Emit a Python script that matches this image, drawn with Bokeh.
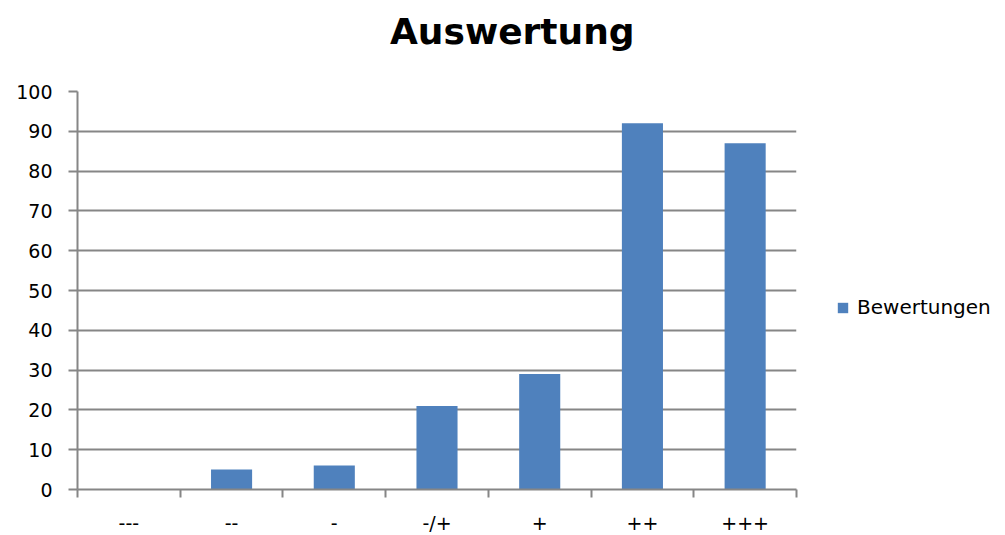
from bokeh.plotting import figure
from bokeh.models import FixedTicker, Range1d, Legend, LegendItem, Div
from bokeh.layouts import column
from bokeh.embed import file_html
from bokeh.resources import INLINE

categories = ["---", "--", "-", "-/+", "+", "++", "+++"]
values = [0, 5, 6, 21, 29, 92, 87]
series_name = "Bewertungen"
title_text = "Auswertung"
y_ticks = list(range(0, 101, 10))

xs = [i + 0.5 for i in range(len(categories))]

GRAY = "#868686"
FONT = "DejaVu Sans"

title_div = Div(
    text=('<div style="padding:14px 0 0 390px;margin:0;font-family:\'DejaVu Sans\';'
          'font-weight:bold;font-size:36px;line-height:1;color:#000000;white-space:nowrap">'
          + title_text + '</div>'),
    width=1005, height=71, margin=0)

p = figure(frame_width=719, frame_height=398, output_backend="svg", toolbar_location=None,
           x_range=Range1d(0, len(categories)), y_range=Range1d(0, 100), title=None,
           min_border_left=77, min_border_right=209, min_border_top=20, min_border_bottom=46,
           margin=0)
p.outline_line_color = None
p.background_fill_color = "white"
p.border_fill_color = "white"

bars = p.vbar(x=xs, top=values, width=0.4, color="#4F81BD", line_color=None)

# x axis
p.xaxis.ticker = FixedTicker(ticks=xs, minor_ticks=list(range(len(categories) + 1)))
p.xaxis.major_label_overrides = {x: c for x, c in zip(xs, categories)}
p.xaxis.major_tick_out = 0
p.xaxis.major_tick_in = 0
p.xaxis.minor_tick_out = 8
p.xaxis.minor_tick_in = 0
p.xaxis.minor_tick_line_color = GRAY
p.xaxis.minor_tick_line_width = 2
p.xaxis.axis_line_color = GRAY
p.xaxis.axis_line_width = 2
p.xaxis.major_label_standoff = 14
p.xaxis.major_label_text_font = FONT
p.xaxis.major_label_text_font_size = "19px"
p.xaxis.major_label_text_color = "#000000"

# y axis
p.yaxis.ticker = FixedTicker(ticks=y_ticks)
p.yaxis.major_tick_out = 9
p.yaxis.major_tick_in = 0
p.yaxis.minor_tick_line_color = None
p.yaxis.major_tick_line_color = GRAY
p.yaxis.major_tick_line_width = 2
p.yaxis.axis_line_color = GRAY
p.yaxis.axis_line_width = 2
p.yaxis.major_label_standoff = 16
p.yaxis.major_label_text_font = FONT
p.yaxis.major_label_text_font_size = "19px"
p.yaxis.major_label_text_color = "#000000"

p.xgrid.grid_line_color = None
p.ygrid.grid_line_color = GRAY
p.ygrid.grid_line_width = 2
p.ygrid.ticker = FixedTicker(ticks=y_ticks)

# legend
lg = Legend(items=[LegendItem(label=series_name, renderers=[bars])],
            location=(40, 170), border_line_color=None, background_fill_alpha=0,
            padding=0, margin=0, glyph_width=13, glyph_height=13, label_standoff=8,
            label_text_font=FONT, label_text_font_size="20px", label_text_color="#000000")
p.add_layout(lg, "right")

layout = column(title_div, p, spacing=0, margin=0)

open("out.html", "w").write(file_html(layout, INLINE))
